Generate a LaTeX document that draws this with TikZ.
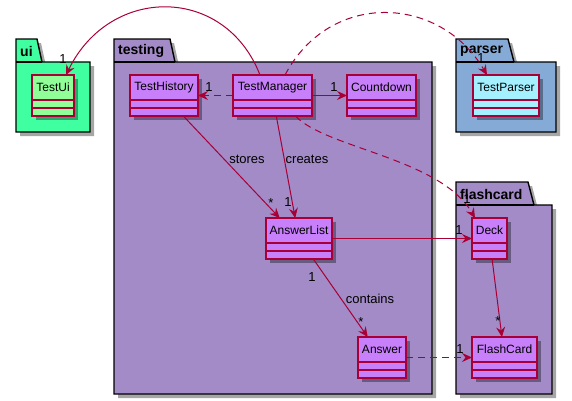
\documentclass[tikz,border=0pt]{standalone}
\usepackage{fontspec}
\setmainfont{Liberation Sans}
\usetikzlibrary{shadows,arrows.meta,calc}
\definecolor{lc}{HTML}{A80036}
\definecolor{pkgp}{HTML}{A28BC7}
\definecolor{clsp}{HTML}{C77FFA}
\definecolor{pkgui}{HTML}{40FFA0}
\definecolor{clsui}{HTML}{90FF98}
\definecolor{pkgpa}{HTML}{85AAD6}
\definecolor{clspa}{HTML}{A5F0FF}
\tikzset{
  pkgline/.style={draw=black, line width=1.4pt},
  pkgshadow/.style={drop shadow={shadow xshift=4pt, shadow yshift=-4pt, opacity=0.35, fill=black}},
  pkgfont/.style={font=\bfseries\fontsize{14}{16}\selectfont, inner sep=0pt},
  cls/.style={draw=lc, line width=1.1pt, minimum height=41pt, inner sep=0pt, outer sep=0pt,
    drop shadow={shadow xshift=4pt, shadow yshift=-4pt, opacity=0.35, fill=black}},
  clsline/.style={draw=lc, line width=1.1pt},
  clsfont/.style={font=\fontsize{12}{14}\selectfont, inner sep=0pt},
  lbl/.style={font=\fontsize{13}{15}\selectfont, inner sep=0pt},
  assoc/.style={draw=lc, line width=1pt, -{Stealth[length=10pt,width=9pt,inset=3.5pt]}},
  dep/.style={assoc, dash pattern=on 7pt off 5pt},
}
\newcommand\umlpkg[9]{%
  \draw[pkgline, fill=#8, pkgshadow] (#2,#7) -- (#5,#7) -- (#6,#7+23) -- (#3,#7+23) -- (#3,#4) -- (#2,#4) -- cycle;
  \draw[pkgline] (#2,#7+23) -- (#6,#7+23);
  \node[pkgfont, anchor=west] (#1) at (#2+4,#7+12) {#9};
}
\newcommand\umlcls[6]{%
  \node[cls, fill=#5, minimum width=#4pt, anchor=north west] (#1) at (#2,#3) {};
  \node[clsfont] (#1-name) at ($(#1.north)+(0,12.5)$) {#6};
  \draw[clsline] ($(#1.north west)+(0,25)$) -- ($(#1.north east)+(0,25)$);
  \draw[clsline] ($(#1.north west)+(0,33)$) -- ($(#1.north east)+(0,33)$);
}
\begin{document}
\begin{tikzpicture}[x=1pt,y=-1pt]
\useasboundingbox (0,0) rectangle (572,400);
% packages
\umlpkg{pui}{16}{90}{132}{37}{42}{39}{pkgui}{ui}
\umlpkg{ptesting}{114}{432}{394}{170}{175}{39}{pkgp}{testing}
\umlpkg{pparser}{456}{556}{132}{508}{514}{39}{pkgpa}{parser}
\umlpkg{pflash}{456}{552}{394}{528}{534}{182}{pkgp}{flashcard}
% classes
\umlcls{tui}{32}{75}{42}{clsui}{TestUi}
\umlcls{th}{130}{75}{68}{clsp}{TestHistory}
\umlcls{tm}{233}{75}{79}{clsp}{TestManager}
\umlcls{cd}{347}{75}{69}{clsp}{Countdown}
\umlcls{tp}{473}{75}{66}{clspa}{TestParser}
\umlcls{al}{266}{218}{66}{clsp}{AnswerList}
\umlcls{ans}{358}{337}{48}{clsp}{Answer}
\umlcls{deck}{472}{218}{35}{clsp}{Deck}
\umlcls{fc}{472}{337}{65}{clsp}{FlashCard}
% connectors
\draw[assoc] ([xshift=-12.5pt]tm.north) .. controls (225,-15) and (110,-15) .. ([xshift=13pt]tui.north);
\draw[dep] ([xshift=12.5pt]tm.north) .. controls (330,-10) and (440,-5) .. ([xshift=-19pt]tp.north);
\draw[dep] (tm) -- (th);
\draw[assoc] (tm) -- (cd);
\draw[assoc] (th) -- (al);
\draw[assoc] (tm) -- (al);
\draw[dep] ([xshift=23pt]tm.south) .. controls (325,148) and (440,158) .. ([xshift=-14.5pt]deck.north);
\draw[assoc] (al) -- (deck);
\draw[assoc] (al) -- (ans);
\draw[dep] (ans) -- (fc);
\draw[assoc] (deck) -- (fc);
% labels
\node[lbl] (m1) at (63,59) {1};
\node[lbl] (m2) at (481,58) {1};
\node[lbl] (m3) at (209,87) {1};
\node[lbl] (m4) at (334,87) {1};
\node[lbl] (m5) at (247,159) {stores};
\node[lbl] (m6) at (271,203) {*};
\node[lbl] (m7) at (307,159) {creates};
\node[lbl] (m8) at (288,202) {1};
\node[lbl] (m9) at (467,199) {1};
\node[lbl] (m10) at (459,230) {1};
\node[lbl] (m11) at (312,277) {1};
\node[lbl] (m12) at (370,299) {contains};
\node[lbl] (m13) at (361,322) {*};
\node[lbl] (m14) at (460,349) {1};
\node[lbl] (m15) at (498,321) {*};
\end{tikzpicture}
\end{document}
